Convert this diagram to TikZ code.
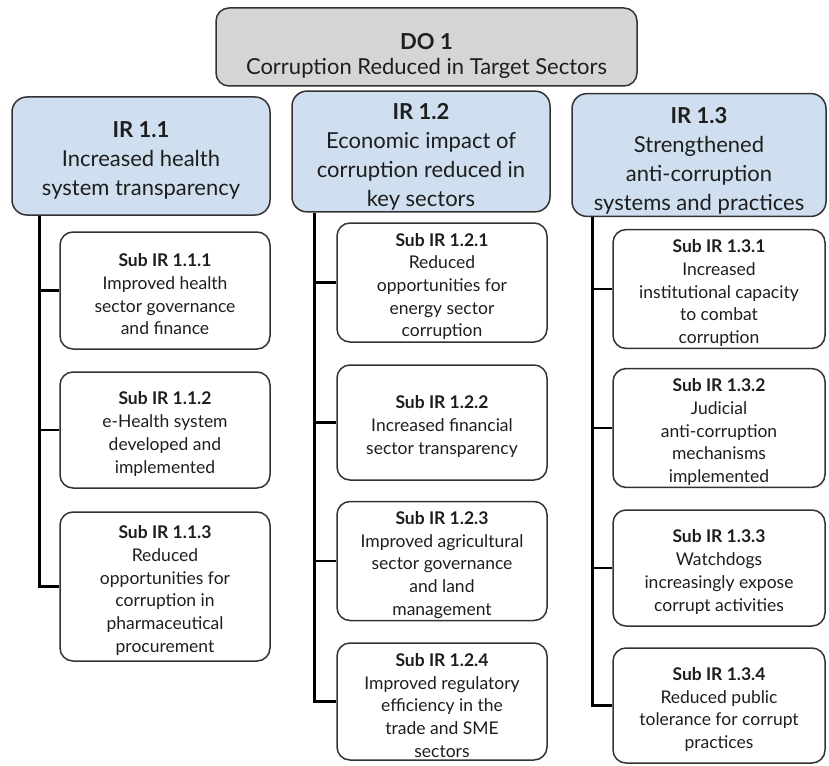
\documentclass[tikz,border=0pt]{standalone}
\usepackage{fontspec}
\setmainfont{Lato}
\usetikzlibrary{calc}
\definecolor{irblue}{HTML}{CFDFEF}
\definecolor{dogray}{HTML}{D5D5D5}
\definecolor{edge}{HTML}{333333}
\definecolor{txt}{HTML}{1E1E1E}
\newcommand\mytopgap[1]{\rule{0pt}{#1}}
\tikzset{
  basebox/.style={draw=edge, line width=1.5pt, align=center, text=txt, inner sep=2pt},
  dobox/.style={basebox, fill=dogray, rounded corners=13pt, font=\fontsize{22}{25}\selectfont},
  irbox/.style={basebox, fill=irblue, rounded corners=15pt, font=\fontsize{22}{29}\selectfont},
  subbox/.style={basebox, fill=white, rounded corners=13pt, font=\fontsize{17.5}{22.7}\selectfont},
  trunk/.style={draw=black, line width=3pt},
  branch/.style={draw=black, line width=2.5pt}
}
\begin{document}
\begin{tikzpicture}[x=1pt,y=-1pt]
\useasboundingbox (0,0) rectangle (829,765);
\fill[white] (0,0) rectangle (829,765);

\node[dobox, minimum width=421pt, minimum height=78pt] (do) at (426.5,47) {\mytopgap{34pt}\textbf{DO 1}\\Corruption Reduced in Target Sectors};

\node[irbox, minimum width=258pt, minimum height=118pt] (ir11) at (141,156) {\mytopgap{24pt}\textbf{IR 1.1}\\Increased health\\system transparency};
\node[irbox, minimum width=258pt, minimum height=117pt] (ir12) at (421,151.5) {\mytopgap{26pt}\textbf{IR 1.2}\\Economic impact of\\corruption reduced in\\key sectors};
\node[irbox, minimum width=254pt, minimum height=116pt] (ir13) at (699,155) {\mytopgap{28pt}\textbf{IR 1.3}\\Strengthened\\anti-corruption\\systems and practices};

% column 1
\node[subbox, minimum width=210pt, minimum height=117pt] (s111) at (165,290.5) {\mytopgap{21pt}\textbf{Sub IR 1.1.1}\\Improved health\\sector governance\\and finance};
\node[subbox, minimum width=210pt, minimum height=116pt] (s112) at (165,430) {\mytopgap{21pt}\textbf{Sub IR 1.1.2}\\e-Health system\\developed and\\implemented};
\node[subbox, minimum width=210pt, minimum height=149pt] (s113) at (165,586.5) {\mytopgap{21pt}\textbf{Sub IR 1.1.3}\\Reduced\\opportunities for\\corruption in\\pharmaceutical\\procurement};

% column 2
\node[subbox, minimum width=210pt, minimum height=119pt] (s121) at (442,282.5) {\mytopgap{21pt}\textbf{Sub IR 1.2.1}\\Reduced\\opportunities for\\energy sector\\corruption};
\node[subbox, minimum width=210pt, minimum height=115pt] (s122) at (442,422.5) {\mytopgap{21pt}\textbf{Sub IR 1.2.2}\\Increased financial\\sector transparency};
\node[subbox, minimum width=210pt, minimum height=116pt] (s123) at (442,561) {\mytopgap{21pt}\textbf{Sub IR 1.2.3}\\Improved agricultural\\sector governance\\and land\\management};
\node[subbox, minimum width=210pt, minimum height=117pt] (s124) at (442,701.5) {\mytopgap{21pt}\textbf{Sub IR 1.2.4}\\Improved regulatory\\efficiency in the\\trade and SME\\sectors};

% column 3
\node[subbox, minimum width=212pt, minimum height=114pt] (s131) at (719,289) {\mytopgap{21pt}\textbf{Sub IR 1.3.1}\\Increased\\institutional capacity\\to combat\\corruption};
\node[subbox, minimum width=212pt, minimum height=118pt] (s132) at (719,428) {\mytopgap{21pt}\textbf{Sub IR 1.3.2}\\Judicial\\anti-corruption\\mechanisms\\implemented};
\node[subbox, minimum width=212pt, minimum height=116pt] (s133) at (719,568) {\mytopgap{21pt}\textbf{Sub IR 1.3.3}\\Watchdogs\\increasingly expose\\corrupt activities};
\node[subbox, minimum width=212pt, minimum height=115pt] (s134) at (719,705.5) {\mytopgap{21pt}\textbf{Sub IR 1.3.4}\\Reduced public\\tolerance for corrupt\\practices};

% trunks
\coordinate (t1) at ($(ir11.south west)+(28,0)$);
\coordinate (t2) at ($(ir12.south west)+(23,0)$);
\coordinate (t3) at ($(ir13.south west)+(21,0)$);

\draw[trunk] (t1) |- (s113.west);
\draw[branch] (s111.west) -- (s111.west -| t1);
\draw[branch] (s112.west) -- (s112.west -| t1);

\draw[trunk] (t2) |- (s124.west);
\draw[branch] (s121.west) -- (s121.west -| t2);
\draw[branch] (s122.west) -- (s122.west -| t2);
\draw[branch] (s123.west) -- (s123.west -| t2);

\draw[trunk] (t3) |- (s134.west);
\draw[branch] (s131.west) -- (s131.west -| t3);
\draw[branch] (s132.west) -- (s132.west -| t3);
\draw[branch] (s133.west) -- (s133.west -| t3);
\end{tikzpicture}
\end{document}
